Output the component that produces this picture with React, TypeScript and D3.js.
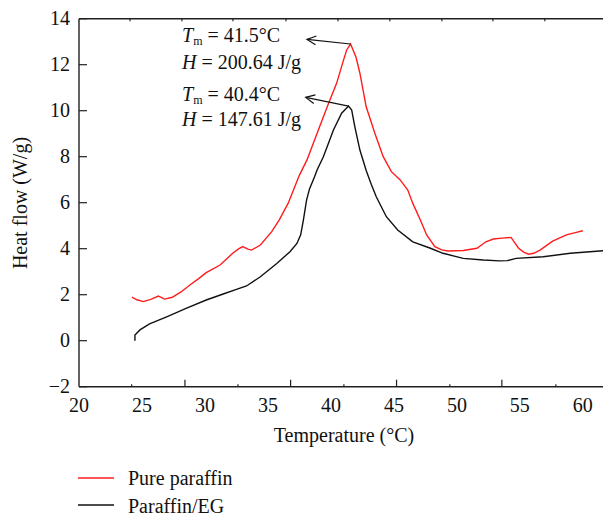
import React from "react";
import { scaleLinear, line } from "d3";

// Pure paraffin DSC curve: [temperature °C, heat flow W/g]
const pureT = [24.2, 24.6, 25.1, 25.7, 26.3, 26.8, 27.4, 28.1, 28.8, 29.5, 30.1, 31.2, 32.2, 32.7, 33.0, 33.4, 33.7, 34.4, 35.3, 35.9, 36.6, 37.5, 38.1, 39.1, 39.8, 40.45, 41.0, 41.25, 41.56, 41.98, 42.3, 42.8, 43.5, 44.15, 44.8, 45.5, 46.1, 46.5, 47.1, 47.6, 48.25, 48.8, 49.3, 50.5, 51.6, 52.3, 52.9, 53.6, 54.3, 54.6, 54.9, 55.3, 55.7, 56.1, 56.6, 57.6, 58.7, 59.4, 60.0];
const pureV = [1.89, 1.78, 1.70, 1.80, 1.94, 1.81, 1.89, 2.12, 2.42, 2.70, 2.96, 3.29, 3.80, 4.00, 4.09, 3.98, 3.94, 4.16, 4.74, 5.25, 5.97, 7.20, 7.86, 9.30, 10.3, 11.19, 12.2, 12.64, 12.9, 12.35, 11.63, 10.17, 9.0, 8.0, 7.35, 6.99, 6.55, 5.97, 5.25, 4.60, 4.09, 3.95, 3.90, 3.92, 4.02, 4.30, 4.42, 4.46, 4.49, 4.25, 4.02, 3.85, 3.76, 3.80, 3.94, 4.33, 4.60, 4.70, 4.78];

// Paraffin/EG composite
const egT = [24.44, 24.44, 24.84, 25.6, 26.96, 28.5, 30.1, 31.45, 32.5, 33.3, 34.4, 35.7, 36.75, 37.3, 37.6, 37.8, 38.07, 38.3, 38.7, 38.9, 39.4, 39.7, 40.2, 40.85, 41.4, 41.65, 41.9, 42.3, 42.8, 43.2, 43.6, 44.4, 45.3, 46.5, 47.9, 48.9, 50.5, 52.1, 53.4, 54.0, 54.7, 56.85, 59.0, 61.6];
const egV = [0.0, 0.25, 0.47, 0.73, 1.04, 1.41, 1.77, 2.03, 2.23, 2.38, 2.78, 3.36, 3.87, 4.23, 4.6, 5.2, 6.12, 6.6, 7.13, 7.42, 8.0, 8.43, 9.16, 9.89, 10.2, 10.03, 9.3, 8.29, 7.4, 6.8, 6.26, 5.39, 4.81, 4.3, 4.02, 3.8, 3.58, 3.51, 3.47, 3.48, 3.58, 3.65, 3.8, 3.91];

const xLabels = [20, 25, 30, 35, 40, 45, 50, 55, 60];
const yLabels = [-2, 0, 2, 4, 6, 8, 10, 12, 14];
// tick marks in the source figure do not line up with the labels
const bottomTicks = [24.18, 28.41, 32.62, 36.8, 41.03, 45.21, 49.44, 53.57, 57.86];
const topTicks = [24.05, 28.17, 32.22, 36.43, 40.56, 44.68, 48.81, 52.86, 56.98];

const seriesNames = ["Pure paraffin", "Paraffin/EG"];
const seriesColors = ["#ff1c1c", "#111111"];
const tmValues = ["41.5", "40.4"];
const hValues = ["200.64", "147.61"];
const arrowTips = [[38.1, 13.1], [38.0, 10.58]];

const font = "'Liberation Serif', 'Times New Roman', serif";
const axisColor = "#231f20";

export default function App() {
  const width = 604;
  const height = 515;
  const x = scaleLinear().domain([20, 61.6]).range([79, 603]);
  const y = scaleLinear().domain([-2, 14]).range([386.7, 18.7]);

  const path = line<[number, number]>()
    .x((d) => x(d[0]))
    .y((d) => y(d[1]));

  const pure: [number, number][] = pureT.map((t, i) => [t, pureV[i]]);
  const eg: [number, number][] = egT.map((t, i) => [t, egV[i]]);
  const peaks = [pure, eg].map((s) => s.reduce((a, b) => (b[1] > a[1] ? b : a)));

  const arrow = (from: [number, number], tip: number[], key: string) => {
    const x1 = x(from[0]);
    const y1 = y(from[1]);
    const x2 = x(tip[0]);
    const y2 = y(tip[1]);
    const ang = Math.atan2(y1 - y2, x1 - x2);
    const len = 10;
    const spread = 0.45;
    const a = [x2 + len * Math.cos(ang - spread), y2 + len * Math.sin(ang - spread)];
    const b = [x2 + len * Math.cos(ang + spread), y2 + len * Math.sin(ang + spread)];
    return (
      <g key={key} stroke="#111" strokeWidth={1.2} fill="none">
        <line x1={x1} y1={y1} x2={x2} y2={y2} />
        <path d={`M${a[0]},${a[1]}L${x2},${y2}L${b[0]},${b[1]}`} />
      </g>
    );
  };

  return (
    <svg
      width={width}
      height={height}
      style={{ position: "absolute", left: 0, top: 0, background: "#fff" }}
      fontFamily={font}
    >
      {/* frame: left, bottom, top */}
      <g stroke={axisColor} strokeWidth={1.4} fill="none">
        <line x1={x(20)} y1={y(-2)} x2={x(20)} y2={y(14)} />
        <line x1={x(20)} y1={y(-2)} x2={x(61.6)} y2={y(-2)} />
        <line x1={x(20)} y1={y(14)} x2={x(61.6)} y2={y(14)} />
      </g>

      {/* y ticks */}
      {yLabels.map((v) => (
        <g key={"y" + v}>
          <line x1={x(20)} x2={x(20) + 8} y1={y(v)} y2={y(v)} stroke={axisColor} strokeWidth={1.2} />
          <text x={70} y={y(v) + 6.5} fontSize={20} textAnchor="end" fill="#111">
            {v < 0 ? "\u2212" + Math.abs(v) : v}
          </text>
        </g>
      ))}

      {/* x ticks */}
      {bottomTicks.map((t, i) => (
        <line key={"b" + i} x1={x(t)} x2={x(t)} y1={y(-2)} y2={y(-2) - (i % 2 === 1 ? 7 : 2.5)} stroke={axisColor} strokeWidth={1.2} />
      ))}
      {topTicks.map((t, i) => (
        <line key={"t" + i} x1={x(t)} x2={x(t)} y1={y(14)} y2={y(14) + 2.5} stroke={axisColor} strokeWidth={1.2} />
      ))}
      {xLabels.map((t) => (
        <text key={"xl" + t} x={x(t)} y={411.5} fontSize={20} textAnchor="middle" fill="#111">
          {t}
        </text>
      ))}

      <text x={344} y={442} fontSize={20} textAnchor="middle" fill="#111">
        Temperature (°C)
      </text>
      <text transform="translate(27,203) rotate(-90)" fontSize={20} textAnchor="middle" fill="#111">
        Heat flow (W/g)
      </text>

      {/* curves */}
      <path d={path(pure) || ""} fill="none" stroke={seriesColors[0]} strokeWidth={1.4} />
      <path d={path(eg) || ""} fill="none" stroke={seriesColors[1]} strokeWidth={1.4} />

      {/* annotations */}
      {peaks.map((p, i) => arrow(p, arrowTips[i], "a" + i))}
      {tmValues.map((tm, i) => (
        <g key={"ann" + i} fontSize={20} fill="#111">
          <text x={182} y={42 + i * 59}>
            <tspan fontStyle="italic">T</tspan>
            <tspan fontSize={12} dy={3}>m</tspan>
            <tspan dy={-3}>{" = " + tm + "°C"}</tspan>
          </text>
          <text x={182} y={69 + i * 57}>
            <tspan fontStyle="italic">H</tspan>
            <tspan>{" = " + hValues[i] + " J/g"}</tspan>
          </text>
        </g>
      ))}

      {/* legend */}
      {seriesNames.map((name, i) => (
        <g key={name}>
          <line x1={78} x2={114} y1={478 + i * 27} y2={478 + i * 27} stroke={seriesColors[i]} strokeWidth={1.4} />
          <text x={128} y={485 + i * 27.5} fontSize={20} fill="#111">
            {name}
          </text>
        </g>
      ))}
    </svg>
  );
}
